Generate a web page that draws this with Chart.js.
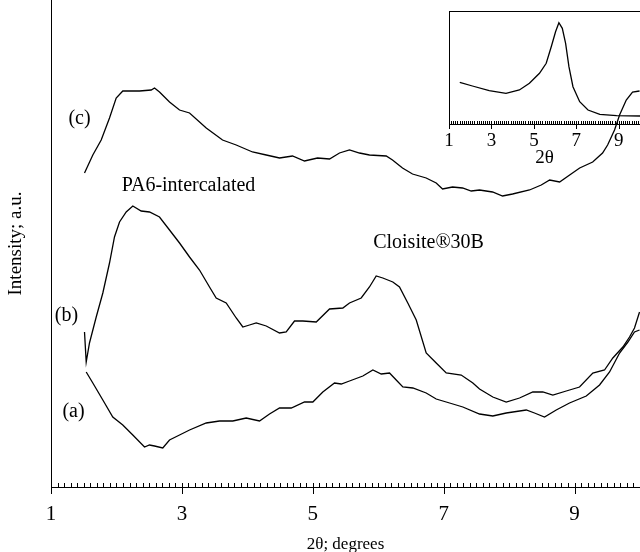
<!DOCTYPE html>
<html>
<head>
<meta charset="utf-8">
<script src="https://cdn.jsdelivr.net/npm/chart.js@4/dist/chart.umd.min.js"></script>
<style>
html,body{margin:0;padding:0;background:#fff;}
#wrap{position:relative;width:640px;height:552px;}
#main{position:absolute;left:0;top:0;}
#inset{position:absolute;left:440px;top:0;}
</style>
</head>
<body>
<div id="wrap">
<canvas id="main" width="640" height="552"></canvas>
<canvas id="inset" width="200" height="170"></canvas>
</div>
<script>
// ---- data (2θ in degrees, intensity in arbitrary units) ----
const cX = [1.512,1.639,1.767,1.894,1.996,2.097,2.352,2.531,2.582,2.658,2.811,2.964,3.117,3.372,3.621,3.830,4.079,4.289,4.492,4.690,4.874,5.072,5.256,5.408,5.561,5.714,5.866,6.122,6.218,6.371,6.524,6.733,6.886,6.983,7.135,7.288,7.421,7.548,7.747,7.900,8.053,8.312,8.491,8.620,8.772,8.925,9.078,9.277,9.428,9.505,9.611,9.688,9.790,9.886,9.993];
const cY = [314,332,347,369,389,396,396,397,399,395,385,377,374,359,347,342,335,332,329,331,326,329,328,334,337,334,332,331,327,319,313,309,304,298,300,299,296,297,295,291,293,297,302,307,305,312,319,325,334,342,357,372,387,395,396];

const bX = [1.512,1.538,1.588,1.691,1.792,1.894,1.970,2.047,2.149,2.250,2.378,2.505,2.658,2.811,2.964,3.117,3.269,3.422,3.524,3.677,3.830,3.931,4.033,4.136,4.289,4.492,4.594,4.721,4.848,5.053,5.256,5.459,5.561,5.740,5.866,5.969,6.070,6.223,6.325,6.452,6.581,6.733,6.886,7.039,7.268,7.446,7.548,7.751,7.956,8.159,8.362,8.515,8.668,8.873,9.076,9.279,9.458,9.585,9.738,9.840,9.916,9.993];
const bY = [155,125,144,170,194,224,250,265,275,281,276,275,270,257,244,230,217,200,189,184,169,160,162,164,161,154,155,166,166,165,178,179,184,189,200,211,209,205,200,184,167,134,124,114,112,104,98,90,85,89,95,95,92,96,100,114,117,129,140,150,159,175];

const aX = [1.538,1.639,1.792,1.944,2.097,2.250,2.429,2.505,2.582,2.708,2.811,2.964,3.117,3.372,3.575,3.778,3.983,4.186,4.339,4.492,4.671,4.874,5.001,5.153,5.332,5.435,5.561,5.765,5.918,6.046,6.173,6.275,6.376,6.529,6.733,6.886,7.090,7.293,7.548,7.751,7.956,8.262,8.388,8.541,8.720,8.923,9.179,9.382,9.535,9.688,9.815,9.916,9.993];
const aY = [115,104,87,70,62,52,40,42,41,39,47,52,57,64,66,66,69,66,73,79,79,85,85,95,104,103,106,111,117,113,114,107,100,99,94,88,84,80,73,71,74,77,74,70,77,84,91,102,115,134,145,155,157];

// inset: Cloisite 30B pattern
const insetX = [1.507,2.104,2.895,3.686,4.316,4.790,5.263,5.581,5.818,6.021,6.178,6.339,6.495,6.651,6.841,7.158,7.551,8.106,8.897,10.0];
const insetY = [41.7,38,33.3,30.7,34,40.7,50.7,60.7,77.3,92.3,101.3,95.7,80.7,57.3,37.3,22.3,14,9.7,8.3,8];

const majorTicks = [1,3,5,7,9];
const curveNames = ['(a)','(b)','(c)'];
const noteTexts = ['PA6-intercalated','Cloisite®30B'];

const SERIF = '"Liberation Serif", "DejaVu Serif", serif';

function pts(xs, ys){ return xs.map((x,i)=>({x:x, y:ys[i]})); }

// minor/major tick plugin drawn through the library's scales
function tickPlugin(minorLen, majorLen){
  return {
    id:'ticks'+minorLen,
    afterDraw(chart){
      const xs = chart.scales.x, ctx = chart.ctx;
      const y0 = chart.chartArea.bottom;
      ctx.save();
      ctx.strokeStyle = '#000'; ctx.lineWidth = 1;
      ctx.beginPath();
      for(let k=Math.round(xs.min*10); k<=Math.round(xs.max*10); k++){
        const px = Math.round(xs.getPixelForValue(k/10)) + 0.5;
        ctx.moveTo(px, y0); ctx.lineTo(px, y0 - minorLen);
      }
      majorTicks.forEach(v=>{
        const px = Math.round(xs.getPixelForValue(v)) + 0.5;
        ctx.moveTo(px, y0 - minorLen); ctx.lineTo(px, y0 + majorLen);
      });
      ctx.stroke();
      ctx.restore();
    }
  };
}

const notesPlugin = {
  id:'notes',
  afterDatasetsDraw(chart){
    const xs = chart.scales.x, ys = chart.scales.y, ctx = chart.ctx;
    ctx.save();
    ctx.fillStyle = '#000';
    ctx.textAlign = 'center';
    ctx.textBaseline = 'middle';
    ctx.font = '20px ' + SERIF;
    const place = [[1.344,75],[1.237,171],[1.436,368]];
    curveNames.forEach((t,i)=>ctx.fillText(t, xs.getPixelForValue(place[i][0]), ys.getPixelForValue(place[i][1])));
    const np = [[3.101,301],[6.769,244]];
    noteTexts.forEach((t,i)=>ctx.fillText(t, xs.getPixelForValue(np[i][0]), ys.getPixelForValue(np[i][1])));
    ctx.restore();
  }
};

const lineDs = (d)=>({data:d, borderColor:'#000', borderWidth:1.3, pointRadius:0, tension:0, fill:false});

new Chart(document.getElementById('main'), {
  type:'line',
  data:{datasets:[lineDs(pts(aX,aY)), lineDs(pts(bX,bY)), lineDs(pts(cX,cY))]},
  options:{
    responsive:false, animation:false, devicePixelRatio:1,
    layout:{padding:0},
    plugins:{legend:{display:false}, tooltip:{enabled:false}},
    scales:{
      x:{
        type:'linear', min:1, max:10,
        afterBuildTicks(s){ s.ticks = majorTicks.map(v=>({value:v})); },
        afterFit(s){ s.height = 65; },
        ticks:{color:'#000', font:{family:SERIF, size:21}, padding:9, maxRotation:0, autoSkip:false},
        grid:{display:true, drawOnChartArea:false, drawTicks:true, tickLength:6, color:'rgba(0,0,0,0)'},
        border:{display:true, color:'#000', width:1},
        title:{display:true, text:'2θ; degrees', color:'#000', font:{family:SERIF, size:17, lineHeight:1}, padding:{top:0, bottom:-1}}
      },
      y:{
        min:0, max:487,
        afterFit(s){ s.width = 51; },
        ticks:{display:false},
        grid:{display:true, drawOnChartArea:false, drawTicks:false, color:'rgba(0,0,0,0)'},
        border:{display:true, color:'#000', width:1},
        title:{display:true, text:'Intensity; a.u.', color:'#000', font:{family:SERIF, size:19, lineHeight:1}, padding:{top:7, bottom:0}}
      }
    }
  },
  plugins:[tickPlugin(4,7), notesPlugin]
});

const frameTop = {
  id:'frameTop',
  afterDraw(chart){
    const a = chart.chartArea, ctx = chart.ctx;
    ctx.save(); ctx.strokeStyle='#000'; ctx.lineWidth=1;
    ctx.beginPath(); ctx.moveTo(a.left, Math.round(a.top)+0.5); ctx.lineTo(a.right, Math.round(a.top)+0.5); ctx.stroke();
    ctx.restore();
  }
};

new Chart(document.getElementById('inset'), {
  type:'line',
  data:{datasets:[lineDs(pts(insetX,insetY))]},
  options:{
    responsive:false, animation:false, devicePixelRatio:1,
    layout:{padding:{top:11, right:0, left:0, bottom:0}},
    plugins:{legend:{display:false}, tooltip:{enabled:false}},
    scales:{
      x:{
        type:'linear', min:1, max:10,
        afterBuildTicks(s){ s.ticks = majorTicks.map(v=>({value:v})); },
        afterFit(s){ s.height = 46; },
        ticks:{color:'#000', font:{family:SERIF, size:19}, padding:1, maxRotation:0, autoSkip:false},
        grid:{display:true, drawOnChartArea:false, drawTicks:true, tickLength:5, color:'rgba(0,0,0,0)'},
        border:{display:true, color:'#000', width:1},
        title:{display:true, text:'2θ', color:'#000', font:{family:SERIF, size:19, lineHeight:1}, padding:{top:0, bottom:2}}
      },
      y:{
        min:0, max:113,
        afterFit(s){ s.width = 9; },
        ticks:{display:false},
        grid:{display:true, drawOnChartArea:false, drawTicks:false, color:'rgba(0,0,0,0)'},
        border:{display:true, color:'#000', width:1}
      }
    }
  },
  plugins:[tickPlugin(3,5), frameTop]
});
</script>
</body>
</html>
